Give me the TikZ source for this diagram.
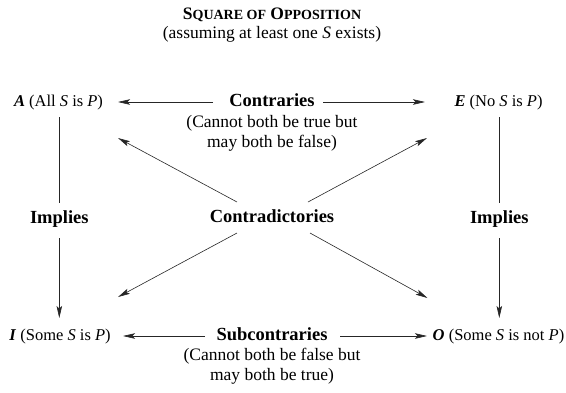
\documentclass[tikz,border=0pt]{standalone}
\usepackage{fontspec}
\setmainfont{Liberation Serif}
\usetikzlibrary{arrows.meta}
\newcommand\mysc[1]{{\fontsize{14}{16}\selectfont #1}}
\begin{document}
\begin{tikzpicture}[x=1pt,y=1pt,
  base/.style={font=\fontsize{16.5}{20}\selectfont, inner sep=0pt, text height=12pt, text depth=4pt},
  lbl/.style={base, font=\fontsize{18.5}{20}\selectfont\bfseries},
  note/.style={font=\fontsize{17.5}{20}\selectfont, align=center, inner sep=0pt},
  ln/.style={line width=0.6pt, draw=black!85},
  arr/.style={ln, -{Stealth[length=12pt,width=5.5pt,inset=2.5pt]}}
]
\useasboundingbox (0,0) rectangle (566,-392);
% titles
\node[base, font=\fontsize{17.5}{20}\selectfont\bfseries] (title) at (272,-15) {S\mysc{QUARE OF} O\mysc{PPOSITION}};
\node[base, font=\fontsize{17.5}{20}\selectfont] (sub) at (272,-34) {(assuming at least one \textit{S} exists)};
% corners
\node[base] (A) at (58.5,-102) {\textbf{\textit{A}} (All \textit{S} is \textit{P})};
\node[base] (E) at (498.5,-102) {\textbf{\textit{E}} (No \textit{S} is \textit{P})};
\node[base] (I) at (60,-336) {\textbf{\textit{I}} (Some \textit{S} is \textit{P})};
\node[base] (O) at (498.5,-336) {\textbf{\textit{O}} (Some \textit{S} is not \textit{P})};
% relations
\node[lbl] (ctr) at (272,-102) {Contraries};
\node[note] (ctrn) at (272,-133) {(Cannot both be true but\\may both be false)};
\node[lbl] (sub2) at (272,-336) {Subcontraries};
\node[note] (subn) at (272,-366) {(Cannot both be false but\\may both be true)};
\node[lbl] (cd) at (272,-218) {Contradictories};
\node[lbl] (impL) at (59.3,-219) {Implies};
\node[lbl] (impR) at (499.3,-219) {Implies};
% horizontal arrows
\draw[arr] ([xshift=-59pt]ctr.center) -- ([xshift=59.5pt]A.center);
\draw[arr] ([xshift=51pt]ctr.center) -- ([xshift=-73.5pt]E.center);
\draw[arr] ([xshift=-67pt]sub2.center) -- ([xshift=63pt]I.center);
\draw[arr] ([xshift=68pt]sub2.center) -- ([xshift=-71.5pt]O.center);
% vertical implications
\draw[ln] ([yshift=102pt]impL.center) -- ([yshift=16pt]impL.center);
\draw[arr] ([yshift=-19pt]impL.center) -- ([yshift=-99pt]impL.center);
\draw[ln] ([yshift=102pt]impR.center) -- ([yshift=16pt]impR.center);
\draw[arr] ([yshift=-19pt]impR.center) -- ([yshift=-99pt]impR.center);
% diagonals
\draw[arr] ([shift={(-35,16)}]cd.center) -- ([shift={(59.5,-36)}]A.center);
\draw[arr] ([shift={(36,16)}]cd.center) -- ([shift={(-71.5,-36)}]E.center);
\draw[arr] ([shift={(-35,-15)}]cd.center) -- ([shift={(58,39)}]I.center);
\draw[arr] ([shift={(38,-15)}]cd.center) -- ([shift={(-71,38)}]O.center);
\end{tikzpicture}
\end{document}
